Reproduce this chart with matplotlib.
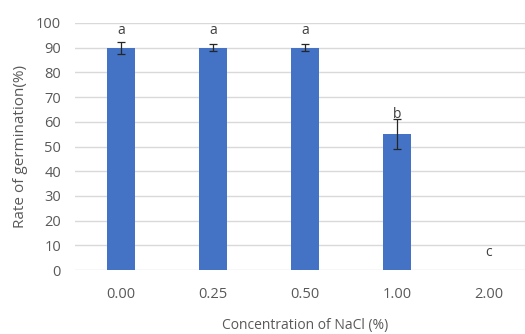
import numpy as np
import matplotlib
matplotlib.use("Agg")
from matplotlib import pyplot as plt

plt.rcParams['font.family'] = ['Open Sans', 'DejaVu Sans']

conc = ["0.00", "0.25", "0.50", "1.00", "2.00"]
rate = [90, 90, 90, 55, 0]
err = [2.5, 1.5, 1.5, 6, 0]
letters = ["a", "a", "a", "b", "c"]
letter_y = [97, 97, 97, 63, 7]

fig = plt.figure(figsize=(5.25, 3.34), dpi=100)
ax = fig.add_axes([75/525, 64/334, 460/525, 247/334])

x = np.arange(len(conc))
ax.bar(x, rate, width=0.31, color='#4472C4', zorder=3)
ax.errorbar(x[:4], rate[:4], yerr=err[:4], fmt='none', ecolor='#262626',
            elinewidth=0.9, capsize=3, capthick=0.9, zorder=4)
for i in range(len(conc)):
    ax.text(x[i], letter_y[i], letters[i], ha='center', va='center',
            fontsize=10, color='#404040')

ax.set_xlim(-0.5, 4.5)
ax.set_ylim(0, 100)
ax.set_yticks(range(0, 101, 10))
ax.set_xticks(x)
ax.set_xticklabels(conc)
ax.grid(axis='y', color='#d9d9d9', linewidth=1, zorder=0)
for s in ax.spines.values():
    s.set_visible(False)
ax.tick_params(length=0, labelsize=10.5, colors='#595959')
ax.tick_params(axis='y', pad=10)
ax.tick_params(axis='x', pad=12)
ax.set_xlabel("Concentration of NaCl (%)", fontsize=10, color='#595959', labelpad=12)
ax.set_ylabel("Rate of germination(%)", fontsize=11, color='#595959', labelpad=6)

fig.savefig("out.png", dpi=100)
